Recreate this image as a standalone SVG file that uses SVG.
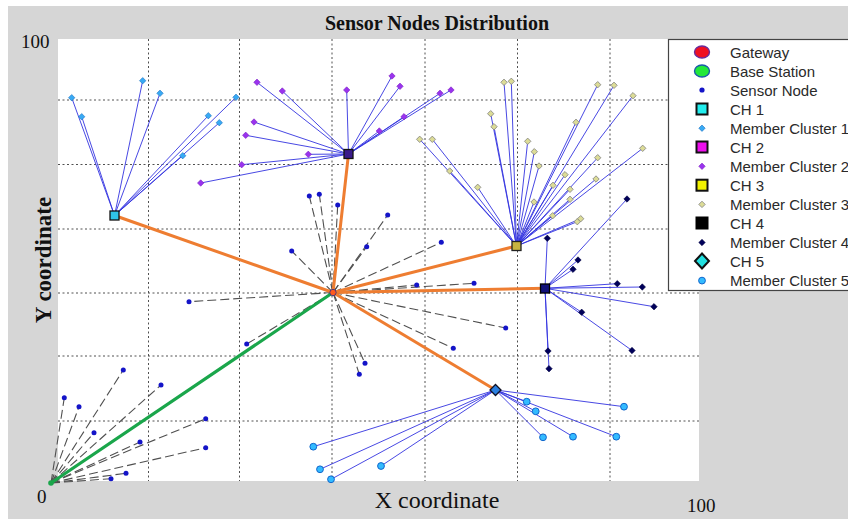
<svg xmlns="http://www.w3.org/2000/svg" xmlns:xlink="http://www.w3.org/1999/xlink" width="848" height="519" viewBox="0 0 848 519">
<style>
.grid{stroke:#505050;stroke-width:1;stroke-dasharray:2 2.5;fill:none}
.mem{stroke:#3434e0;stroke-width:1;stroke-opacity:.9}
.sen{stroke:#505050;stroke-width:1.1;stroke-dasharray:9 4}
.ch{stroke:#ee7d31;stroke-width:3;stroke-linecap:round}
.bsl{stroke:#1aa64b;stroke-width:3.2;stroke-linecap:round}
.t{font-family:"Liberation Serif","Times New Roman",serif;fill:#111}
.lg{font-family:"Liberation Sans",Arial,sans-serif;font-size:15px;fill:#2a2a2a}
.sn{fill:#1414c8}
.m1{fill:#38aaf4;stroke:#1f70c0;stroke-width:.6}
.m2{fill:#9a33ee;stroke:#7a20c0;stroke-width:.6}
.m3{fill:#dcdc96;stroke:#808080;stroke-width:.8}
.m4{fill:#00005a;stroke:#000040;stroke-width:.6}
.m5{fill:#33bbff;stroke:#1166cc;stroke-width:1}
</style>
<defs>
<path id="dm" d="M0,-3.2 L3.2,0 L0,3.2 L-3.2,0Z"/>
<circle id="dot" r="2.5"/>
<circle id="cir" r="3.4"/>
</defs>

<!-- figure frame -->
<rect x="0" y="0" width="848" height="519" fill="#fff"/>
<rect x="8" y="6" width="840" height="513" fill="#d6d6d6"/>
<rect x="58" y="39" width="641" height="442" fill="#fff"/>

<!-- grid -->
<g id="grid" class="grid">
<path d="M148.5,39V481M239.5,39V481M332,39V481M425,39V481M517.5,39V481M610,39V481"/>
<path d="M58,100H699M58,164.5H699M58,229H699M58,293H699M58,356H699M58,421H699"/>
</g>

<!-- axis texts -->
<text class="t" x="437" y="30" font-size="20" font-weight="bold" text-anchor="middle">Sensor Nodes Distribution</text>
<text class="t" x="21" y="48" font-size="19">100</text>
<text class="t" x="37" y="503" font-size="19">0</text>
<text class="t" x="687" y="512" font-size="19">100</text>
<text class="t" x="437" y="508" font-size="24" text-anchor="middle">X coordinate</text>
<text class="t" x="0" y="0" font-size="23" font-weight="bold" text-anchor="middle" transform="translate(51,260) rotate(-90)">Y coordinate</text>

<g id="connectors">
<!-- sensor nodes to gateway -->
<g class="sen">
<line x1="333" y1="292.5" x2="309.3" y2="196"/>
<line x1="333" y1="292.5" x2="319.3" y2="194.3"/>
<line x1="333" y1="292.5" x2="337.7" y2="205"/>
<line x1="333" y1="292.5" x2="387.7" y2="215"/>
<line x1="333" y1="292.5" x2="366.7" y2="246.7"/>
<line x1="333" y1="292.5" x2="291.7" y2="251"/>
<line x1="333" y1="292.5" x2="189" y2="301.7"/>
<line x1="333" y1="292.5" x2="246.7" y2="344"/>
<line x1="333" y1="292.5" x2="441.3" y2="242.3"/>
<line x1="333" y1="292.5" x2="474" y2="283.3"/>
<line x1="333" y1="292.5" x2="416.7" y2="285"/>
<line x1="333" y1="292.5" x2="505.7" y2="328"/>
<line x1="333" y1="292.5" x2="453.3" y2="348.3"/>
<line x1="333" y1="292.5" x2="359.3" y2="374.3"/>
<line x1="333" y1="292.5" x2="365" y2="363.3"/>
<!-- sensor nodes to base station -->
<line x1="51" y1="483" x2="64.3" y2="397.7"/>
<line x1="51" y1="483" x2="79" y2="406.7"/>
<line x1="51" y1="483" x2="123.3" y2="370"/>
<line x1="51" y1="483" x2="161" y2="385"/>
<line x1="51" y1="483" x2="94" y2="432.7"/>
<line x1="51" y1="483" x2="140" y2="442"/>
<line x1="51" y1="483" x2="205.7" y2="418.7"/>
<line x1="51" y1="483" x2="205.7" y2="447.7"/>
<line x1="51" y1="483" x2="126" y2="473.3"/>
<line x1="51" y1="483" x2="111" y2="478.7"/>
</g>
<!-- cluster members to heads -->
<g class="mem">
<line x1="114.5" y1="215.5" x2="71.7" y2="97.7"/>
<line x1="114.5" y1="215.5" x2="81.7" y2="116.7"/>
<line x1="114.5" y1="215.5" x2="142.7" y2="80.7"/>
<line x1="114.5" y1="215.5" x2="160" y2="93.3"/>
<line x1="114.5" y1="215.5" x2="236" y2="97.3"/>
<line x1="114.5" y1="215.5" x2="208.3" y2="115.7"/>
<line x1="114.5" y1="215.5" x2="219.3" y2="122.7"/>
<line x1="114.5" y1="215.5" x2="182.7" y2="155.7"/>

<line x1="348.5" y1="154" x2="257" y2="82.3"/>
<line x1="348.5" y1="154" x2="282.3" y2="91"/>
<line x1="348.5" y1="154" x2="346.7" y2="90"/>
<line x1="348.5" y1="154" x2="392" y2="76"/>
<line x1="348.5" y1="154" x2="400" y2="86.3"/>
<line x1="348.5" y1="154" x2="404" y2="116.7"/>
<line x1="348.5" y1="154" x2="379.3" y2="131"/>
<line x1="348.5" y1="154" x2="440" y2="93.3"/>
<line x1="348.5" y1="154" x2="451" y2="90"/>
<line x1="348.5" y1="154" x2="254" y2="122"/>
<line x1="348.5" y1="154" x2="245.7" y2="135.3"/>
<line x1="348.5" y1="154" x2="308.3" y2="154.3"/>
<line x1="348.5" y1="154" x2="241.7" y2="164.7"/>
<line x1="348.5" y1="154" x2="200.7" y2="183"/>

<line x1="516.5" y1="246" x2="504" y2="82.3"/>
<line x1="516.5" y1="246" x2="511.3" y2="81.3"/>
<line x1="516.5" y1="246" x2="597.7" y2="84.7"/>
<line x1="516.5" y1="246" x2="614" y2="85.3"/>
<line x1="516.5" y1="246" x2="633" y2="95.7"/>
<line x1="516.5" y1="246" x2="490.7" y2="113.7"/>
<line x1="516.5" y1="246" x2="494" y2="126.7"/>
<line x1="516.5" y1="246" x2="576" y2="122.3"/>
<line x1="516.5" y1="246" x2="419.7" y2="139.3"/>
<line x1="516.5" y1="246" x2="432.3" y2="139.3"/>
<line x1="516.5" y1="246" x2="527.7" y2="141.3"/>
<line x1="516.5" y1="246" x2="534.3" y2="151.7"/>
<line x1="516.5" y1="246" x2="539" y2="166"/>
<line x1="516.5" y1="246" x2="642.7" y2="148.3"/>
<line x1="516.5" y1="246" x2="597.7" y2="157.7"/>
<line x1="516.5" y1="246" x2="449.7" y2="171"/>
<line x1="516.5" y1="246" x2="565" y2="174.7"/>
<line x1="516.5" y1="246" x2="596" y2="179"/>
<line x1="516.5" y1="246" x2="477.7" y2="187.3"/>
<line x1="516.5" y1="246" x2="553" y2="185.3"/>
<line x1="516.5" y1="246" x2="570" y2="189.3"/>
<line x1="516.5" y1="246" x2="570" y2="199.3"/>
<line x1="516.5" y1="246" x2="534" y2="202"/>
<line x1="516.5" y1="246" x2="552.7" y2="215.7"/>
<line x1="516.5" y1="246" x2="577.3" y2="221.7"/>
<line x1="516.5" y1="246" x2="580.7" y2="218.7"/>

<line x1="545" y1="288.3" x2="627" y2="199"/>
<line x1="545" y1="288.3" x2="547.3" y2="238.3"/>
<line x1="545" y1="288.3" x2="578" y2="260"/>
<line x1="545" y1="288.3" x2="573" y2="269.3"/>
<line x1="545" y1="288.3" x2="617.3" y2="283.7"/>
<line x1="545" y1="288.3" x2="642.3" y2="287"/>
<line x1="545" y1="288.3" x2="654" y2="306.7"/>
<line x1="545" y1="288.3" x2="581.7" y2="312.3"/>
<line x1="545" y1="288.3" x2="632" y2="350.5"/>
<line x1="545" y1="288.3" x2="548" y2="351"/>
<line x1="545" y1="288.3" x2="549" y2="368.7"/>

<line x1="495.5" y1="390" x2="526.7" y2="401.7"/>
<line x1="495.5" y1="390" x2="535.7" y2="411.3"/>
<line x1="495.5" y1="390" x2="624" y2="406.7"/>
<line x1="495.5" y1="390" x2="543" y2="437.3"/>
<line x1="495.5" y1="390" x2="573" y2="436.7"/>
<line x1="495.5" y1="390" x2="616.3" y2="436.7"/>
<line x1="495.5" y1="390" x2="313.3" y2="446.7"/>
<line x1="495.5" y1="390" x2="320" y2="469.3"/>
<line x1="495.5" y1="390" x2="331" y2="479.3"/>
<line x1="495.5" y1="390" x2="381" y2="466"/>
</g>
<!-- heads to gateway, gateway to base station -->
<line class="ch" x1="333" y1="292.5" x2="114.5" y2="215.5"/>
<line class="ch" x1="333" y1="292.5" x2="348.5" y2="154"/>
<line class="ch" x1="333" y1="292.5" x2="516.5" y2="246"/>
<line class="ch" x1="333" y1="292.5" x2="545" y2="288.3"/>
<line class="ch" x1="333" y1="292.5" x2="495.5" y2="390"/>
<line class="bsl" x1="333" y1="292.5" x2="51" y2="483"/>
</g>

<!-- sensor nodes -->
<g id="sensors" class="sn">
<g id="s1"><use href="#dot" x="309.3" y="196"/></g>
<g id="s2"><use href="#dot" x="319.3" y="194.3"/></g>
<g id="s3"><use href="#dot" x="337.7" y="205"/></g>
<g id="s4"><use href="#dot" x="387.7" y="215"/></g>
<g id="s5"><use href="#dot" x="366.7" y="246.7"/></g>
<g id="s6"><use href="#dot" x="291.7" y="251"/></g>
<g id="s7"><use href="#dot" x="189" y="301.7"/></g>
<g id="s8"><use href="#dot" x="246.7" y="344"/></g>
<g id="s9"><use href="#dot" x="441.3" y="242.3"/></g>
<g id="s10"><use href="#dot" x="474" y="283.3"/></g>
<g id="s11"><use href="#dot" x="416.7" y="285"/></g>
<g id="s12"><use href="#dot" x="505.7" y="328"/></g>
<g id="s13"><use href="#dot" x="453.3" y="348.3"/></g>
<g id="s14"><use href="#dot" x="359.3" y="374.3"/></g>
<g id="s15"><use href="#dot" x="365" y="363.3"/></g>
<g id="s16"><use href="#dot" x="64.3" y="397.7"/></g>
<g id="s17"><use href="#dot" x="79" y="406.7"/></g>
<g id="s18"><use href="#dot" x="123.3" y="370"/></g>
<g id="s19"><use href="#dot" x="161" y="385"/></g>
<g id="s20"><use href="#dot" x="94" y="432.7"/></g>
<g id="s21"><use href="#dot" x="140" y="442"/></g>
<g id="s22"><use href="#dot" x="205.7" y="418.7"/></g>
<g id="s23"><use href="#dot" x="205.7" y="447.7"/></g>
<g id="s24"><use href="#dot" x="126" y="473.3"/></g>
<g id="s25"><use href="#dot" x="111" y="478.7"/></g>
</g>

<!-- cluster 1 members -->
<g id="cluster1" class="m1">
<g id="c1-1"><use href="#dm" x="71.7" y="97.7"/></g>
<g id="c1-2"><use href="#dm" x="81.7" y="116.7"/></g>
<g id="c1-3"><use href="#dm" x="142.7" y="80.7"/></g>
<g id="c1-4"><use href="#dm" x="160" y="93.3"/></g>
<g id="c1-5"><use href="#dm" x="236" y="97.3"/></g>
<g id="c1-6"><use href="#dm" x="208.3" y="115.7"/></g>
<g id="c1-7"><use href="#dm" x="219.3" y="122.7"/></g>
<g id="c1-8"><use href="#dm" x="182.7" y="155.7"/></g>
</g>
<!-- cluster 2 members -->
<g id="cluster2" class="m2">
<g id="c2-1"><use href="#dm" x="257" y="82.3"/></g>
<g id="c2-2"><use href="#dm" x="282.3" y="91"/></g>
<g id="c2-3"><use href="#dm" x="346.7" y="90"/></g>
<g id="c2-4"><use href="#dm" x="392" y="76"/></g>
<g id="c2-5"><use href="#dm" x="400" y="86.3"/></g>
<g id="c2-6"><use href="#dm" x="404" y="116.7"/></g>
<g id="c2-7"><use href="#dm" x="379.3" y="131"/></g>
<g id="c2-8"><use href="#dm" x="440" y="93.3"/></g>
<g id="c2-9"><use href="#dm" x="451" y="90"/></g>
<g id="c2-10"><use href="#dm" x="254" y="122"/></g>
<g id="c2-11"><use href="#dm" x="245.7" y="135.3"/></g>
<g id="c2-12"><use href="#dm" x="308.3" y="154.3"/></g>
<g id="c2-13"><use href="#dm" x="241.7" y="164.7"/></g>
<g id="c2-14"><use href="#dm" x="200.7" y="183"/></g>
</g>
<!-- cluster 3 members -->
<g id="cluster3" class="m3">
<g id="c3-1"><use href="#dm" x="504" y="82.3"/></g>
<g id="c3-2"><use href="#dm" x="511.3" y="81.3"/></g>
<g id="c3-3"><use href="#dm" x="597.7" y="84.7"/></g>
<g id="c3-4"><use href="#dm" x="614" y="85.3"/></g>
<g id="c3-5"><use href="#dm" x="633" y="95.7"/></g>
<g id="c3-6"><use href="#dm" x="490.7" y="113.7"/></g>
<g id="c3-7"><use href="#dm" x="494" y="126.7"/></g>
<g id="c3-8"><use href="#dm" x="576" y="122.3"/></g>
<g id="c3-9"><use href="#dm" x="419.7" y="139.3"/></g>
<g id="c3-10"><use href="#dm" x="432.3" y="139.3"/></g>
<g id="c3-11"><use href="#dm" x="527.7" y="141.3"/></g>
<g id="c3-12"><use href="#dm" x="534.3" y="151.7"/></g>
<g id="c3-13"><use href="#dm" x="539" y="166"/></g>
<g id="c3-14"><use href="#dm" x="642.7" y="148.3"/></g>
<g id="c3-15"><use href="#dm" x="597.7" y="157.7"/></g>
<g id="c3-16"><use href="#dm" x="449.7" y="171"/></g>
<g id="c3-17"><use href="#dm" x="565" y="174.7"/></g>
<g id="c3-18"><use href="#dm" x="596" y="179"/></g>
<g id="c3-19"><use href="#dm" x="477.7" y="187.3"/></g>
<g id="c3-20"><use href="#dm" x="553" y="185.3"/></g>
<g id="c3-21"><use href="#dm" x="570" y="189.3"/></g>
<g id="c3-22"><use href="#dm" x="570" y="199.3"/></g>
<g id="c3-23"><use href="#dm" x="534" y="202"/></g>
<g id="c3-24"><use href="#dm" x="552.7" y="215.7"/></g>
<g id="c3-25"><use href="#dm" x="577.3" y="221.7"/></g>
<g id="c3-26"><use href="#dm" x="580.7" y="218.7"/></g>
</g>
<!-- cluster 4 members -->
<g id="cluster4" class="m4">
<g id="c4-1"><use href="#dm" x="627" y="199"/></g>
<g id="c4-2"><use href="#dm" x="547.3" y="238.3"/></g>
<g id="c4-3"><use href="#dm" x="578" y="260"/></g>
<g id="c4-4"><use href="#dm" x="573" y="269.3"/></g>
<g id="c4-5"><use href="#dm" x="617.3" y="283.7"/></g>
<g id="c4-6"><use href="#dm" x="642.3" y="287"/></g>
<g id="c4-7"><use href="#dm" x="654" y="306.7"/></g>
<g id="c4-8"><use href="#dm" x="581.7" y="312.3"/></g>
<g id="c4-9"><use href="#dm" x="632" y="350.5"/></g>
<g id="c4-10"><use href="#dm" x="548" y="351"/></g>
<g id="c4-11"><use href="#dm" x="549" y="368.7"/></g>
</g>
<!-- cluster 5 members -->
<g id="cluster5" class="m5">
<g id="c5-1"><use href="#cir" x="526.7" y="401.7"/></g>
<g id="c5-2"><use href="#cir" x="535.7" y="411.3"/></g>
<g id="c5-3"><use href="#cir" x="624" y="406.7"/></g>
<g id="c5-4"><use href="#cir" x="543" y="437.3"/></g>
<g id="c5-5"><use href="#cir" x="573" y="436.7"/></g>
<g id="c5-6"><use href="#cir" x="616.3" y="436.7"/></g>
<g id="c5-7"><use href="#cir" x="313.3" y="446.7"/></g>
<g id="c5-8"><use href="#cir" x="320" y="469.3"/></g>
<g id="c5-9"><use href="#cir" x="331" y="479.3"/></g>
<g id="c5-10"><use href="#cir" x="381" y="466"/></g>
</g>

<!-- cluster heads, gateway, base station -->
<g id="ch1"><rect x="110" y="211" width="9" height="9" fill="#2fc4e8" stroke="#111" stroke-width="1.3"/></g>
<g id="ch2"><rect x="344" y="149.5" width="9" height="9" fill="#3a1a8a" stroke="#111" stroke-width="1.3"/></g>
<g id="ch3"><rect x="512" y="241.5" width="9" height="9" fill="#c8b440" stroke="#222" stroke-width="1.3"/></g>
<g id="ch4"><rect x="540.5" y="284" width="9" height="9" fill="#10107a" stroke="#000" stroke-width="1.3"/></g>
<g id="ch5"><path d="M495.5,384.5 L501,390 L495.5,395.5 L490,390Z" fill="#2a7fe0" stroke="#112" stroke-width="1.3"/></g>
<g id="gateway"><circle cx="333" cy="292.5" r="3.2" fill="#ff5a1e" stroke="#2a2a8a" stroke-width=".8"/></g>
<g id="base-station"><circle cx="51" cy="483" r="2.8" fill="#1aa64b"/></g>

<!-- legend -->
<g id="legend">
<rect x="668.5" y="39.5" width="184" height="251" fill="#fff" stroke="#444" stroke-width="1.2"/>
<ellipse cx="702" cy="52" rx="7.5" ry="6" fill="#f01020" stroke="#6a2a9a" stroke-width="1.4"/>
<text class="lg" x="730" y="57.5">Gateway</text>
<ellipse cx="702" cy="71" rx="7.5" ry="6" fill="#22e83a" stroke="#1a5aaa" stroke-width="1.4"/>
<text class="lg" x="730" y="76.5">Base Station</text>
<circle cx="702" cy="90" r="2.6" fill="#1414c8"/>
<text class="lg" x="730" y="95.5">Sensor Node</text>
<rect x="696.5" y="103.5" width="11" height="11" fill="#22eeee" stroke="#111" stroke-width="2"/>
<text class="lg" x="730" y="114.5">CH 1</text>
<use href="#dm" x="702" y="128.2" class="m1"/>
<text class="lg" x="730" y="133.5">Member Cluster 1</text>
<rect x="696.5" y="141.5" width="11" height="11" fill="#ee10ee" stroke="#111" stroke-width="2"/>
<text class="lg" x="730" y="152.5">CH 2</text>
<use href="#dm" x="702" y="166.3" class="m2"/>
<text class="lg" x="730" y="171.5">Member Cluster 2</text>
<rect x="696.5" y="179.7" width="11" height="11" fill="#f2f200" stroke="#111" stroke-width="2"/>
<text class="lg" x="730" y="190.7">CH 3</text>
<use href="#dm" x="702" y="204.4" class="m3"/>
<text class="lg" x="730" y="209.7">Member Cluster 3</text>
<rect x="695.5" y="216.5" width="13" height="13" fill="#000"/>
<text class="lg" x="730" y="228.7">CH 4</text>
<use href="#dm" x="702" y="242.5" class="m4"/>
<text class="lg" x="730" y="247.7">Member Cluster 4</text>
<path d="M702,253.5 L709,261 L702,268.5 L695,261Z" fill="#22e0e0" stroke="#111" stroke-width="2"/>
<text class="lg" x="730" y="266.7">CH 5</text>
<circle cx="702" cy="280.6" r="3.4" class="m5"/>
<text class="lg" x="730" y="285.7">Member Cluster 5</text>
</g>
</svg>
